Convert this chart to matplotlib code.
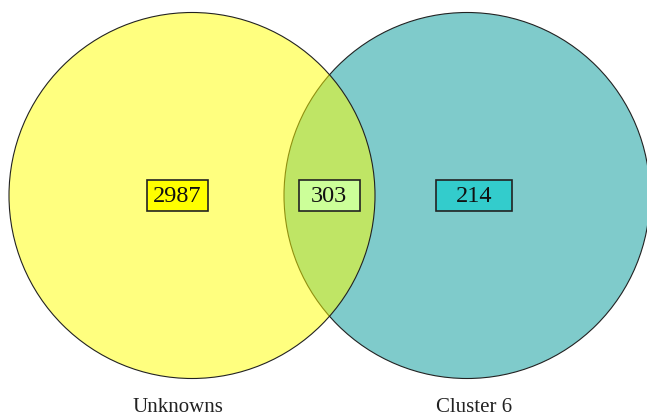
import matplotlib.pyplot as plt
from matplotlib.patches import Circle, Rectangle

# set names and region counts
set_names = ["Unknowns", "Cluster 6"]
only_left = 2987
shared = 303
only_right = 214

counts = [only_left, shared, only_right]
box_colors = ["#ffff00", "#ccff99", "#33cccc"]

W, H = 647, 417

fig = plt.figure(figsize=(W / 100, H / 100), dpi=100)
ax = fig.add_axes([0, 0, 1, 1])
ax.set_xlim(0, W)
ax.set_ylim(H, 0)
ax.set_aspect("equal")
ax.axis("off")

font = "Liberation Serif"

# circles (pixel layout)
r = 183
cy = 195.5
cx_left, cx_right = 192, 467

ax.add_patch(Circle((cx_right, cy), r, facecolor="#009999", alpha=0.5,
                    edgecolor="none", zorder=1))
ax.add_patch(Circle((cx_right, cy), r, facecolor="none", edgecolor="#222222",
                    lw=0.8, zorder=1))
ax.add_patch(Circle((cx_left, cy), r, facecolor="#ffff00", alpha=0.5,
                    edgecolor="none", zorder=2))
ax.add_patch(Circle((cx_left, cy), r, facecolor="none", edgecolor="#222222",
                    lw=0.8, zorder=3))

# count boxes
box_x = [177.4, 329.4, 474.2]
box_w = [61, 61, 76]
box_h = 31
for x, w, n, c in zip(box_x, box_w, counts, box_colors):
    ax.add_patch(Rectangle((x - w / 2, cy - box_h / 2), w, box_h,
                           facecolor=c, edgecolor="#222222", lw=1.2, zorder=4))
    ax.text(x, cy + 1, str(n), ha="center", va="center", fontsize=17.5,
            family=font, color="#111111", zorder=5)

# set labels
for x, name in zip([178, 474], set_names):
    ax.text(x, 412, name, ha="center", va="baseline", fontsize=15,
            family=font, color="#222222")

plt.savefig("out.png", dpi=100)
